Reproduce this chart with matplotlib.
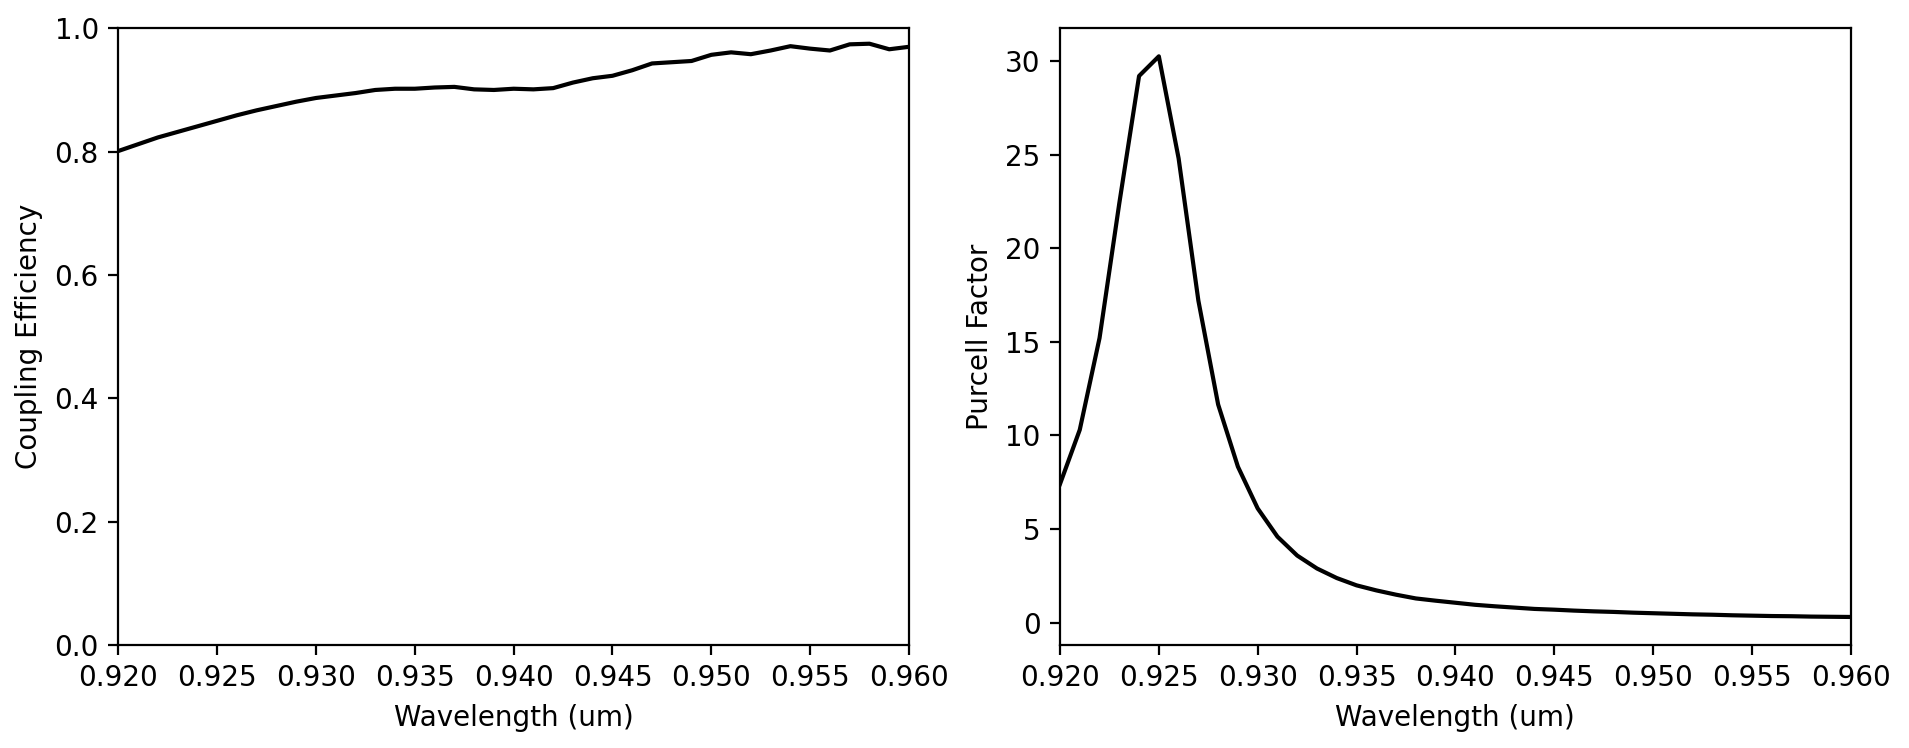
import numpy as np
import matplotlib
matplotlib.use("Agg")
import matplotlib.pyplot as plt
from matplotlib.ticker import FormatStrFormatter

wavelength = [0.920 + 0.001 * i for i in range(41)]

coupling_efficiency = [
    0.801, 0.812, 0.823, 0.832, 0.841, 0.850, 0.859, 0.867, 0.874, 0.881,
    0.887, 0.891, 0.895, 0.900, 0.902, 0.902, 0.904, 0.905, 0.901, 0.900,
    0.902, 0.901, 0.903, 0.912, 0.919, 0.923, 0.932, 0.943, 0.945, 0.947,
    0.957, 0.961, 0.958, 0.964, 0.971, 0.967, 0.964, 0.974, 0.975, 0.966,
    0.970,
]

purcell_factor = [
    7.4, 10.3, 15.2, 22.4, 29.2, 30.25, 24.8, 17.2, 11.65, 8.33,
    6.1, 4.59, 3.58, 2.89, 2.38, 1.99, 1.72, 1.49, 1.29, 1.17,
    1.06, 0.95, 0.87, 0.80, 0.73, 0.69, 0.64, 0.60, 0.57, 0.53,
    0.50, 0.47, 0.44, 0.42, 0.39, 0.37, 0.35, 0.34, 0.32, 0.31,
    0.30,
]

x_ticks = [0.920, 0.925, 0.930, 0.935, 0.940, 0.945, 0.950, 0.955, 0.960]

W, H = 1909, 748
fig = plt.figure(figsize=(W / 200, H / 200), dpi=200)
plt.rcParams['font.size'] = 10

ax1 = fig.add_axes([118.3 / W, (H - 645) / H, 790.7 / W, 616.7 / H])
ax2 = fig.add_axes([1060 / W, (H - 645) / H, 790.7 / W, 616.7 / H])

ax1.plot(wavelength, coupling_efficiency, color='black', lw=1.5)
ax1.set_xlim(0.920, 0.960)
ax1.set_ylim(0, 1)
ax1.set_xticks(x_ticks)
ax1.xaxis.set_major_formatter(FormatStrFormatter('%.3f'))
ax1.set_yticks([0.0, 0.2, 0.4, 0.6, 0.8, 1.0])
ax1.set_xlabel('Wavelength (um)')
ax1.set_ylabel('Coupling Efficiency')

ax2.plot(wavelength, purcell_factor, color='black', lw=1.5)
ax2.set_xlim(0.920, 0.960)
ax2.set_xticks(x_ticks)
ax2.xaxis.set_major_formatter(FormatStrFormatter('%.3f'))
ax2.set_yticks([0, 5, 10, 15, 20, 25, 30])
ax2.set_xlabel('Wavelength (um)')
ax2.set_ylabel('Purcell Factor')

fig.savefig('out.png', dpi=200)
